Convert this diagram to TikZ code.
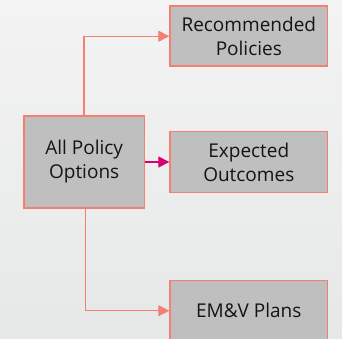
\documentclass[tikz,border=0pt]{standalone}
\usepackage{fontspec}
\setmainfont{Open Sans}
\usetikzlibrary{arrows.meta}
\definecolor{boxfill}{HTML}{BFBFBF}
\definecolor{boxedge}{HTML}{F57F71}
\definecolor{midarrow}{HTML}{D6006F}
\definecolor{bgtop}{HTML}{F3F3F3}
\definecolor{bgbot}{HTML}{E6E8E8}
\tikzset{
  box/.style={draw=boxedge, fill=boxfill, line width=1.3pt, inner sep=0pt,
    align=center, font=\fontsize{19}{24}\selectfont, text=black!92},
  link/.style={draw=boxedge, line width=1.3pt, -{Triangle[length=11pt,width=11pt]}},
}
\begin{document}
\begin{tikzpicture}[x=1pt,y=-1pt]
  \shade[top color=bgtop, bottom color=bgbot] (0,0) rectangle (342,339);
  \useasboundingbox (0,0) rectangle (342,339);
  \begin{scope}
    \clip (0,0) rectangle (342,339);
    \node[box, minimum width=120.4pt, minimum height=92pt, anchor=north west] (all) at (23.3,115.3) {All Policy\\Options};
    \node[box, minimum width=157.7pt, minimum height=60pt, anchor=north west] (rec) at (169.3,5.3) {Recommended\\Policies};
    \node[box, minimum width=157.7pt, minimum height=60.7pt, anchor=north west] (exp) at (169.3,131) {Expected\\Outcomes};
    \node[box, minimum width=157.7pt, minimum height=60.7pt, anchor=north west] (emv) at (169.3,279.7) {EM\&V Plans};
    \draw[link] ([xshift=-0.3pt]all.north) |- ([yshift=-0.3pt]rec.west);
    \draw[link] ([xshift=1.3pt]all.south) |- (emv.west);
    \draw[link, draw=midarrow] (all.east |- exp.west) -- (exp.west);
  \end{scope}
\end{tikzpicture}
\end{document}
